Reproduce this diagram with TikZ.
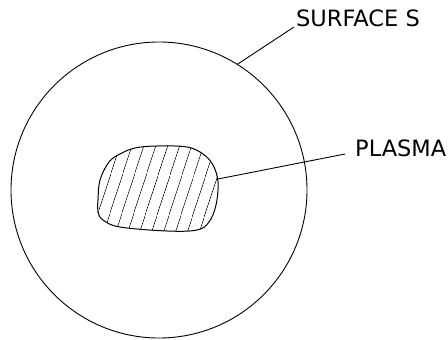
\documentclass[tikz,border=0pt]{standalone}
\usepackage{fontspec}
\setmainfont{DejaVu Sans}
\usetikzlibrary{patterns.meta}

\begin{document}
\begin{tikzpicture}[
		x=1pt, y=-1pt,
		% Style for the closed surface
		surf/.style={circle, draw, line width=0.9pt, minimum size=296pt, inner sep=0pt},
		% Style for the hatched plasma region
		plasma/.style={draw, line width=1pt,
			pattern={Lines[angle=72, distance=10.5pt, line width=0.9pt]}},
		% Labels and leader lines
		tag/.style={font=\fontsize{22.5}{26}\selectfont, inner ysep=0pt},
		leader/.style={line width=0.9pt}
		]
	\useasboundingbox (0,0) rectangle (448,340);

	% Surface S
	\node[surf] (surface) at (159,190) {};

	% Plasma
	\draw[plasma] plot[smooth cycle, tension=0.6] coordinates {
			(157,146) (187,147) (203,154) (213,165) (218,182) (216,205)
			(209,222) (197,230) (167,231) (120,227) (103,220) (98,212)
			(98,200) (100,180) (109,162) (120,154) (135,148)};
	\coordinate (plasmaedge) at (218,179);

	% Labels
	\node[tag, anchor=base west, inner xsep=2pt] (surfacelabel) at (294,27) {SURFACE S};
	\node[tag, anchor=mid west, inner xsep=10pt] (plasmalabel) at (345,154) {PLASMA};

	\draw[leader] (surface.58) -- (surfacelabel.base west);
	\draw[leader] (plasmaedge) -- (plasmalabel.mid west);
\end{tikzpicture}
\end{document}
